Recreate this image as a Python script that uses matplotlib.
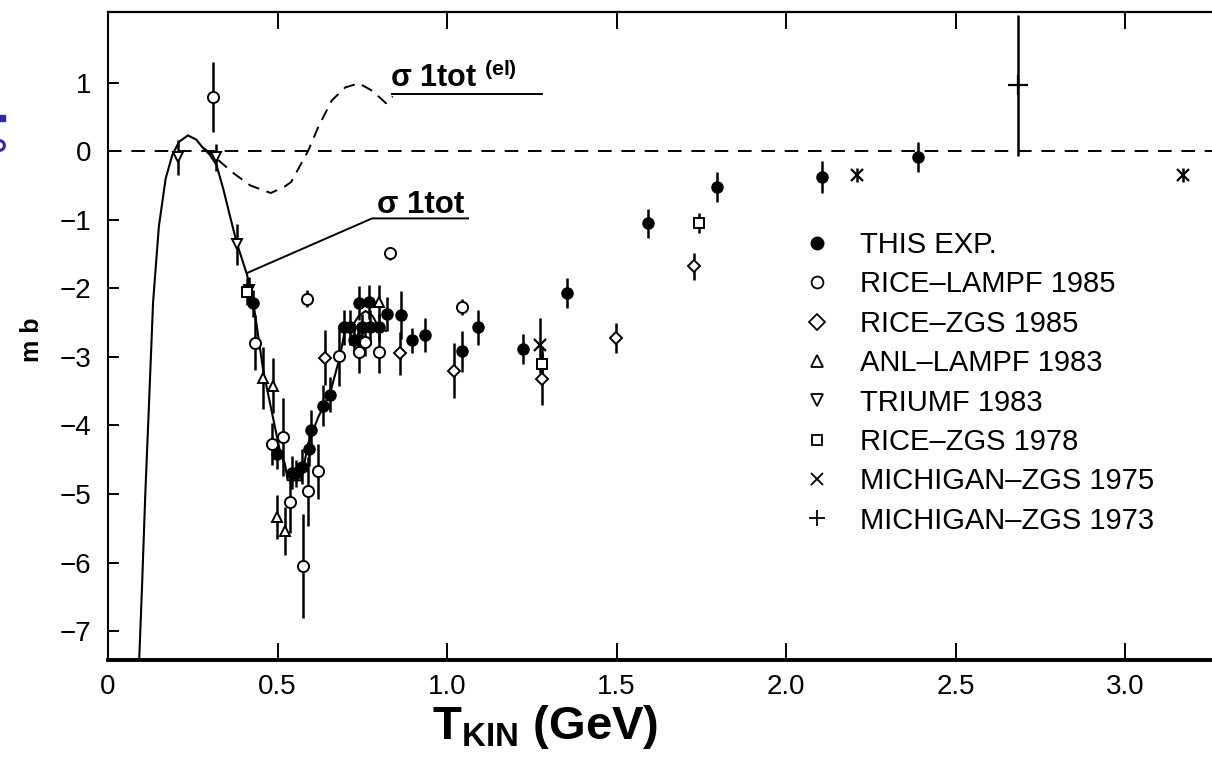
import numpy as np
import matplotlib
matplotlib.use("Agg")
import matplotlib.pyplot as plt
from matplotlib.lines import Line2D

plt.rcParams['font.family'] = ['Liberation Sans', 'DejaVu Sans']
plt.rcParams['mathtext.fontset'] = 'custom'
plt.rcParams['mathtext.rm'] = 'Liberation Sans'
plt.rcParams['mathtext.bf'] = 'Liberation Sans:bold'
plt.rcParams['mathtext.it'] = 'Liberation Sans:italic'

# THIS EXP.
this_x = [0.428, 0.498, 0.543, 0.556, 0.572, 0.592, 0.598, 0.634, 0.655, 0.697,
          0.714, 0.727, 0.737, 0.741, 0.749, 0.770, 0.773, 0.800, 0.823, 0.864,
          0.896, 0.935, 1.044, 1.090, 1.224, 1.354, 1.593, 1.796, 2.106, 2.390]
this_y = [-2.22, -4.42, -4.69, -4.70, -4.60, -4.34, -4.07, -3.71, -3.55, -2.57,
          -2.57, -2.76, -2.76, -2.21, -2.57, -2.20, -2.57, -2.57, -2.37, -2.39,
          -2.76, -2.68, -2.92, -2.57, -2.88, -2.07, -1.05, -0.52, -0.38, -0.09]
this_err = [0.20, 0.22, 0.24, 0.20, 0.25, 0.25, 0.30, 0.30, 0.25, 0.25,
            0.25, 0.20, 0.20, 0.25, 0.20, 0.25, 0.25, 0.20, 0.25, 0.35,
            0.18, 0.25, 0.30, 0.25, 0.22, 0.22, 0.21, 0.22, 0.23, 0.22]

# RICE-LAMPF 1985
rl85_x = [0.310, 0.434, 0.484, 0.517, 0.537, 0.575, 0.587, 0.590, 0.620, 0.681,
          0.741, 0.758, 0.800, 0.832, 1.044]
rl85_y = [0.79, -2.79, -4.27, -4.17, -5.12, -6.05, -2.15, -4.96, -4.67, -2.98,
          -2.93, -2.78, -2.93, -1.49, -2.27]
rl85_err = [0.51, 0.40, 0.30, 0.57, 0.45, 0.76, 0.12, 0.50, 0.40, 0.45,
            0.30, 0.20, 0.30, 0.10, 0.12]

# RICE-ZGS 1985
rz85_x = [0.640, 0.861, 1.020, 1.280, 1.499, 1.729]
rz85_y = [-3.01, -2.95, -3.20, -3.32, -2.72, -1.68]
rz85_err = [0.40, 0.32, 0.40, 0.38, 0.22, 0.20]

# ANL-LAMPF 1983
anl_x = [0.458, 0.487, 0.498, 0.522, 0.800]
anl_y = [-3.31, -3.42, -5.34, -5.54, -2.20]
anl_err = [0.45, 0.40, 0.32, 0.35, 0.25]

# TRIUMF 1983
tri_x = [0.206, 0.320, 0.380, 0.415]
tri_y = [-0.09, -0.09, -1.36, -2.02]
tri_err = [0.25, 0.20, 0.30, 0.18]

# RICE-ZGS 1978
rz78_x = [0.410, 1.280, 1.743]
rz78_y = [-2.05, -3.10, -1.05]
rz78_err = [0.20, 0.25, 0.15]

# MICHIGAN-ZGS 1975 / 1973
m75_x = [1.274, 2.210, 3.170]
m75_y = [-2.83, -0.35, -0.35]
m75_err = [0.40, 0.10, 0.10]
m73_x = [2.684]
m73_y = [0.96]
m73_err = [1.03]

# calculated curves
tot_x = [0.092, 0.100, 0.110, 0.120, 0.133, 0.150, 0.170, 0.190, 0.210, 0.236,
         0.260, 0.280, 0.300, 0.320, 0.340, 0.360, 0.380, 0.410, 0.430, 0.458,
         0.484, 0.507, 0.522, 0.530, 0.570, 0.575, 0.590, 0.620, 0.655, 0.684,
         0.699, 0.720, 0.740, 0.760, 0.780, 0.800, 0.820]
tot_y = [-7.42, -6.40, -5.00, -3.80, -2.20, -1.10, -0.40, -0.05, 0.14, 0.23,
         0.17, 0.05, -0.05, -0.20, -0.55, -0.95, -1.34, -1.80, -2.25, -3.20,
         -3.82, -4.37, -4.56, -4.80, -4.80, -4.66, -4.27, -3.88, -3.53, -3.00,
         -2.61, -2.55, -2.40, -2.33, -2.40, -2.58, -2.62]
el_x = [0.280, 0.300, 0.330, 0.370, 0.420, 0.480, 0.520, 0.540, 0.570, 0.590,
        0.620, 0.660, 0.700, 0.740, 0.780, 0.820, 0.840]
el_y = [0.05, -0.02, -0.15, -0.32, -0.50, -0.61, -0.52, -0.45, -0.18, 0.00,
        0.35, 0.74, 0.93, 0.99, 0.88, 0.70, 0.80]

fig = plt.figure(figsize=(12.12, 7.61), dpi=100)
ax = fig.add_axes([108 / 1212, 101 / 761, 1104 / 1212, 648 / 761])

ax.axhline(0, color='black', lw=1.4, dashes=(7, 5))
ax.plot(tot_x, tot_y, color='black', lw=1.5)
ax.plot(el_x, el_y, color='black', lw=1.4, dashes=(6, 4))

eb = dict(ecolor='black', elinewidth=1.8, capsize=0, linestyle='none', color='black')
ax.errorbar(this_x, this_y, yerr=this_err, fmt='o', ms=8, mfc='black', mec='black', **eb)
ax.errorbar(rl85_x, rl85_y, yerr=rl85_err, fmt='o', ms=8, mfc='white', mec='black', mew=1.4, **eb)
ax.errorbar(rz85_x, rz85_y, yerr=rz85_err, fmt='D', ms=6, mfc='white', mec='black', mew=1.4, **eb)
ax.errorbar(anl_x, anl_y, yerr=anl_err, fmt='^', ms=7, mfc='white', mec='black', mew=1.4, **eb)
ax.errorbar(tri_x, tri_y, yerr=tri_err, fmt='v', ms=7, mfc='white', mec='black', mew=1.4, **eb)
ax.errorbar(rz78_x, rz78_y, yerr=rz78_err, fmt='s', ms=6.5, mfc='white', mec='black', mew=1.4, **eb)
ax.errorbar(m75_x, m75_y, yerr=m75_err, fmt='x', ms=9, mec='black', mew=1.6, **eb)
ax.errorbar(m73_x, m73_y, yerr=m73_err, fmt='+', ms=15, mec='black', mew=1.6, **eb)

# curve labels with leader lines
ax.plot([0.413, 0.779, 1.062], [-1.77, -0.98, -0.98], color='black', lw=1.4)
ax.text(0.794, -0.90, 'σ 1tot', fontsize=22.5, fontweight='bold')
ax.plot([0.838, 1.28], [0.83, 0.83], color='black', lw=1.4)
ax.text(0.832, 0.93, r'σ 1tot $^{\mathbf{(el)}}$', fontsize=22, fontweight='bold')

ax.set_xlim(0, 1104 / 339)
ax.set_ylim(-7.42, 2.03)
ax.set_xticks([0, 0.5, 1.0, 1.5, 2.0, 2.5, 3.0])
ax.set_xticklabels(['0', '0.5', '1.0', '1.5', '2.0', '2.5', '3.0'])
ax.set_yticks([1, 0, -1, -2, -3, -4, -5, -6, -7])
ax.tick_params(axis='x', which='major', direction='in', length=12, width=1.4,
               top=True, labelsize=20, pad=10)
ax.tick_params(axis='y', which='major', direction='in', length=8, width=1.4,
               labelsize=20, pad=12)
ax.spines['right'].set_visible(False)
ax.spines['left'].set_linewidth(1.5)
ax.spines['top'].set_linewidth(1.6)
ax.spines['bottom'].set_linewidth(2.8)

ax.set_xlabel(r'T$_{\mathregular{KIN}}$ (GeV)', fontsize=34, fontweight='bold')
ax.xaxis.set_label_coords((545 - 108) / 1104, -0.066)
fig.text(0.026, 0.553, 'm b', rotation=90, fontsize=18, fontweight='bold',
         ha='center', va='center')

# stray blue marks at the left edge of the page
blue = '#2b2ba8'
fig.add_artist(Line2D([2 / 1212], [1 - 118 / 761], marker='s', ms=4, color=blue,
                      transform=fig.transFigure))
fig.add_artist(Line2D([-1 / 1212], [1 - 145 / 761], marker='o', ms=7, mfc='none',
                      mec=blue, mew=2.2, transform=fig.transFigure))

handles = [
    Line2D([], [], ls='none', marker='o', ms=9, mfc='black', mec='black'),
    Line2D([], [], ls='none', marker='o', ms=8.5, mfc='white', mec='black', mew=1.3),
    Line2D([], [], ls='none', marker='D', ms=8, mfc='white', mec='black', mew=1.3),
    Line2D([], [], ls='none', marker='^', ms=8.5, mfc='white', mec='black', mew=1.3),
    Line2D([], [], ls='none', marker='v', ms=8.5, mfc='white', mec='black', mew=1.3),
    Line2D([], [], ls='none', marker='s', ms=7.5, mfc='white', mec='black', mew=1.3),
    Line2D([], [], ls='none', marker='x', ms=9, mec='black', mew=1.3),
    Line2D([], [], ls='none', marker='+', ms=12, mec='black', mew=1.3),
]
labels = ['THIS EXP.', 'RICE\u2013LAMPF 1985', 'RICE\u2013ZGS 1985', 'ANL\u2013LAMPF 1983',
          'TRIUMF 1983', 'RICE\u2013ZGS 1978', 'MICHIGAN\u2013ZGS 1975', 'MICHIGAN\u2013ZGS 1973']
ax.legend(handles, labels, loc='upper left', bbox_to_anchor=(0.6286, 0.662),
          frameon=False, fontsize=21, handlelength=1.0, handletextpad=0.98,
          labelspacing=0.39, borderpad=0, borderaxespad=0)

fig.savefig('out.png', dpi=100)
